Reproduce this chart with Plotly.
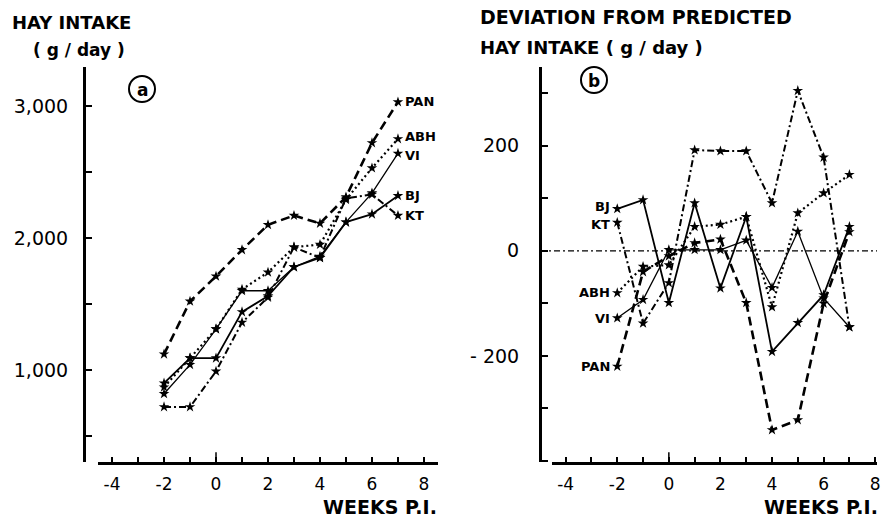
import plotly.graph_objects as go

# Weeks post infection
weeks = [-2, -1, 0, 1, 2, 3, 4, 5, 6, 7]

# (a) hay intake, g/day
intake_pan = [1120, 1520, 1710, 1910, 2100, 2170, 2110, 2310, 2720, 3030]
intake_abh = [870, 1090, 1310, 1610, 1740, 1930, 1950, 2290, 2530, 2750]
intake_vi = [820, 1040, 1310, 1600, 1600, 1780, 1860, 2120, 2340, 2640]
intake_bj = [900, 1090, 1090, 1440, 1560, 1780, 1850, 2120, 2180, 2320]
intake_kt = [720, 720, 990, 1360, 1550, 1930, 1850, 2300, 2330, 2170]

# (b) deviation from predicted hay intake, g/day
dev_bj = [80, 97, -99, 91, -71, 65, -192, -137, -84, 46]
dev_kt = [54, -138, -61, 192, 190, 190, 91, 305, 178, -145]
dev_abh = [-80, -30, -27, 46, 50, 65, -107, 72, 110, 145]
dev_vi = [-128, -93, 2, 2, 2, 20, -70, 37, -90, -145]
dev_pan = [-220, -40, -10, 15, 22, -99, -341, -322, -100, 36]

animals = ["PAN", "ABH", "VI", "BJ", "KT"]
intake = [intake_pan, intake_abh, intake_vi, intake_bj, intake_kt]
deviation = [dev_pan, dev_abh, dev_vi, dev_bj, dev_kt]

styles = {
    "PAN": dict(dash="9px,5px", width=2.6),
    "ABH": dict(dash="2px,3px", width=2.2),
    "VI": dict(dash="solid", width=1.3),
    "BJ": dict(dash="solid", width=1.8),
    "KT": dict(dash="7px,3px,2px,3px", width=2.0),
}

# small vertical nudges so neighbouring end labels stay apart
label_nudge_a = {"PAN": 0, "ABH": 2, "VI": -2, "BJ": 0, "KT": 0}
label_nudge_b = {"PAN": 0, "ABH": 0, "VI": 0, "BJ": 2, "KT": -2}

W, H = 887, 518
FONT = "DejaVu Sans, Liberation Sans, sans-serif"


def px(x):
    return x / W


def py(y):
    return 1 - y / H


fig = go.Figure()

for name, vals in zip(animals, intake):
    fig.add_trace(go.Scatter(
        x=weeks, y=vals, mode="lines+markers", xaxis="x", yaxis="y",
        line=dict(color="black", **styles[name]),
        marker=dict(symbol="star", size=8, color="black"),
        showlegend=False))

for name, vals in zip(animals, deviation):
    fig.add_trace(go.Scatter(
        x=weeks, y=vals, mode="lines+markers", xaxis="x2", yaxis="y2",
        line=dict(color="black", **styles[name]),
        marker=dict(symbol="star", size=8, color="black"),
        showlegend=False))

ydom = [py(462), py(67)]
xtickfont = dict(family=FONT, size=17, color="black")
ytickfont = dict(family=FONT, size=19, color="black")

xcommon = dict(
    tickvals=[-4, -2, 0, 2, 4, 6, 8],
    ticktext=["-4", "-2", "0", "2", "4", "6", "8"],
    ticks="inside", ticklen=5, tickwidth=1.5, tickcolor="black",
    minor=dict(dtick=1, tick0=0, ticks="inside", ticklen=5, tickwidth=1.5, tickcolor="black"),
    showline=True, linecolor="black", linewidth=2.5,
    showgrid=False, zeroline=False, automargin=False,
    tickfont=xtickfont, ticklabelstandoff=5,
)

fig.update_layout(
    width=W, height=H,
    margin=dict(l=0, r=0, t=0, b=0),
    paper_bgcolor="white", plot_bgcolor="rgba(0,0,0,0)",
    template="none",
    xaxis=dict(domain=[px(98), px(438)], range=[-4.54, 8.54], anchor="y", **xcommon),
    xaxis2=dict(domain=[px(552), px(877)], range=[-4.53, 8.07], anchor="y2", **xcommon),
    yaxis=dict(
        domain=ydom, range=[303, 3295], anchor="free", position=px(84),
        tickvals=[1000, 2000, 3000], ticktext=["1,000", "2,000", "3,000"],
        ticks="inside", ticklen=6, tickwidth=1.5, tickcolor="black",
        minor=dict(dtick=500, tick0=0, ticks="inside", ticklen=6, tickwidth=1.5, tickcolor="black"),
        showline=True, linecolor="black", linewidth=3,
        showgrid=False, zeroline=False, automargin=False,
        tickfont=ytickfont, ticklabelstandoff=11,
    ),
    yaxis2=dict(
        domain=ydom, range=[-402, 350], anchor="free", position=px(540),
        tickvals=[-200, 0, 200], ticktext=["- 200", "0", "200"],
        ticks="inside", ticklen=6, tickwidth=1.5, tickcolor="black",
        minor=dict(dtick=100, tick0=0, ticks="inside", ticklen=6, tickwidth=1.5, tickcolor="black"),
        showline=True, linecolor="black", linewidth=3,
        showgrid=False, zeroline=False, automargin=False,
        tickfont=ytickfont, ticklabelstandoff=16,
    ),
)

# zero reference line on panel b
fig.add_shape(type="line", xref="paper", yref="y2", x0=px(540), x1=px(877), y0=0, y1=0,
              line=dict(color="black", width=1.2, dash="6px,3px,2px,3px"))

# longer tick at week 0 on both axes
for xr, yr in (("x", "y domain"), ("x2", "y2 domain")):
    fig.add_shape(type="line", xref=xr, yref=yr, x0=0, x1=0, y0=0, y1=0.025,
                  line=dict(color="black", width=1.5))

ann = []


def text(x, y, s, size=17, xanchor="left"):
    ann.append(dict(x=px(x), y=py(y), xref="paper", yref="paper", text=s, showarrow=False,
                    xanchor=xanchor, yanchor="middle",
                    font=dict(family=FONT, size=size, color="black", weight="bold")))


text(10, 22, "HAY INTAKE", size=18)
text(31, 50, "( g / day )", size=17)
text(478, 17, "DEVIATION FROM PREDICTED", size=19)
text(478, 47, "HAY INTAKE ( g / day )", size=18)
text(439, 507, "WEEKS P.I.", size=19, xanchor="right")
text(880, 507, "WEEKS P.I.", size=19, xanchor="right")

# panel markers
for cx, cy, s in ((142, 89, "a"), (594, 80, "b")):
    fig.add_shape(type="circle", xref="paper", yref="paper",
                  x0=px(cx - 13), x1=px(cx + 13), y0=py(cy + 13), y1=py(cy - 13),
                  line=dict(color="black", width=2))
    ann.append(dict(x=px(cx), y=py(cy + 1), xref="paper", yref="paper", text=s, showarrow=False,
                    xanchor="center", yanchor="middle",
                    font=dict(family=FONT, size=17, color="black", weight="bold")))

# series labels at line ends
for name, vals in zip(animals, intake):
    ann.append(dict(x=weeks[-1], y=vals[-1], xref="x", yref="y", text=name, showarrow=False,
                    xanchor="left", yanchor="middle", xshift=5, yshift=label_nudge_a[name],
                    font=dict(family=FONT, size=13, color="black", weight="bold")))
for name, vals in zip(animals, deviation):
    ann.append(dict(x=weeks[0], y=vals[0], xref="x2", yref="y2", text=name, showarrow=False,
                    xanchor="right", yanchor="middle", xshift=-5, yshift=label_nudge_b[name],
                    font=dict(family=FONT, size=13, color="black", weight="bold")))

fig.update_layout(annotations=ann)

fig.write_html("out.html")
